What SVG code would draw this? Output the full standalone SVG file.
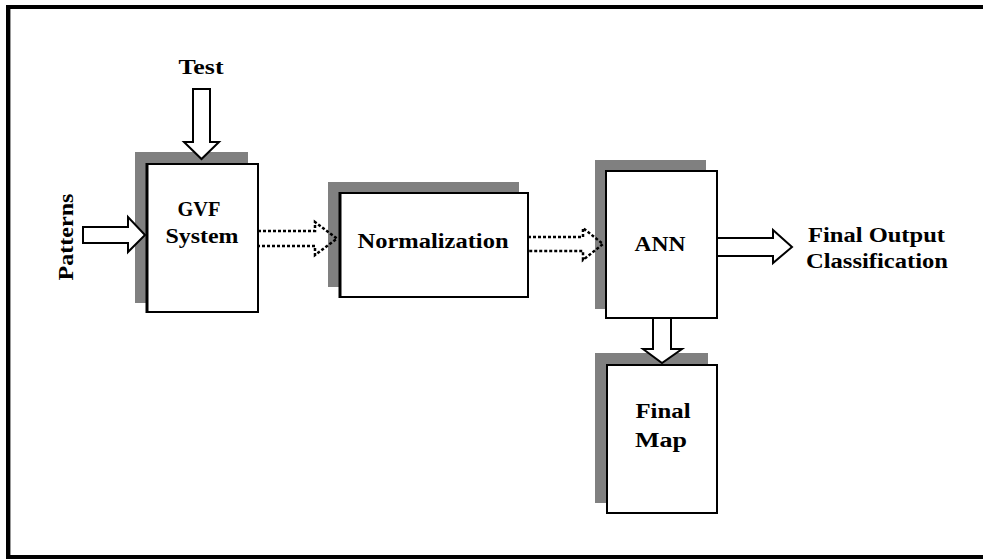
<svg xmlns="http://www.w3.org/2000/svg" width="983" height="559" viewBox="0 0 983 559">
<style>
.t{font-family:"Liberation Serif","Times New Roman",serif;font-weight:bold;font-size:20px;fill:#000}
.sh{fill:#808080}
.bx{fill:#fff;stroke:#000;stroke-width:2}
.ar{fill:#fff;stroke:#000;stroke-width:2;stroke-linejoin:miter}
.dt{fill:none;stroke:#000;stroke-width:2.5;stroke-dasharray:3 2}
</style>
<rect x="0" y="0" width="983" height="559" fill="#fff"/>
<rect x="8" y="7" width="990" height="550" fill="none" stroke="#000" stroke-width="4"/>
<line x1="10.5" y1="9" x2="10.5" y2="555" stroke="#999" stroke-width="1"/>

<g id="test-label">
<text class="t" x="201" y="74" text-anchor="middle" textLength="45" lengthAdjust="spacingAndGlyphs">Test</text>
</g>
<g id="patterns-label">
<text class="t" transform="translate(73,237) rotate(-90)" text-anchor="middle" textLength="87" lengthAdjust="spacingAndGlyphs">Patterns</text>
</g>

<g id="gvf">
<rect class="sh" x="135" y="152" width="113" height="151"/>
<rect class="bx" x="147" y="164" width="111" height="148"/>
<line x1="147" y1="163" x2="147" y2="313" stroke="#000" stroke-width="3"/>
<text class="t" x="199" y="216" text-anchor="middle" textLength="43" lengthAdjust="spacingAndGlyphs">GVF</text>
<text class="t" x="202" y="243" text-anchor="middle" textLength="73" lengthAdjust="spacingAndGlyphs">System</text>
</g>

<g id="normalization">
<rect class="sh" x="328" y="182" width="191" height="105"/>
<rect class="bx" x="340" y="193" width="188" height="104"/>
<line x1="340" y1="192" x2="340" y2="298" stroke="#000" stroke-width="3"/>
<text class="t" x="433" y="248" text-anchor="middle" textLength="151" lengthAdjust="spacingAndGlyphs">Normalization</text>
</g>

<g id="ann">
<rect class="sh" x="595" y="160" width="111" height="149"/>
<rect class="bx" x="606" y="171" width="111" height="147" stroke-width="2.5"/>
<text class="t" x="660" y="251" text-anchor="middle" textLength="51" lengthAdjust="spacingAndGlyphs">ANN</text>
</g>

<g id="final-map">
<rect class="sh" x="595" y="353" width="113" height="150"/>
<rect class="bx" x="607" y="365" width="110" height="148"/>
<text class="t" x="663" y="418" text-anchor="middle" textLength="55" lengthAdjust="spacingAndGlyphs">Final</text>
<text class="t" x="661" y="447" text-anchor="middle" textLength="52" lengthAdjust="spacingAndGlyphs">Map</text>
</g>

<g id="output-label">
<text class="t" x="808" y="242" textLength="137" lengthAdjust="spacingAndGlyphs">Final Output</text>
<text class="t" x="806" y="268" textLength="142" lengthAdjust="spacingAndGlyphs">Classification</text>
</g>

<g id="connectors">
<polygon class="ar" points="193,89 210,89 210,142 219,142 201.5,159 184,142 193,142"/>
<polygon class="ar" points="83,227 128,227 128,217 145,235 128,252 128,243 83,243"/>
<path class="dt" d="M258,231 H315 V222 L337,238.5 L315,255 V246 H258"/>
<path class="dt" d="M528,237 H583 V228 L603,244 L583,260 V251 H528"/>
<polygon class="ar" points="717,238 773,238 773,230 792,247 773,263 773,256 717,256" stroke-width="2.5"/>
<polygon class="ar" points="653,318 671,318 671,349 682,349 662,363 643,349 653,349" stroke-width="2.5"/>
</g>
</svg>
